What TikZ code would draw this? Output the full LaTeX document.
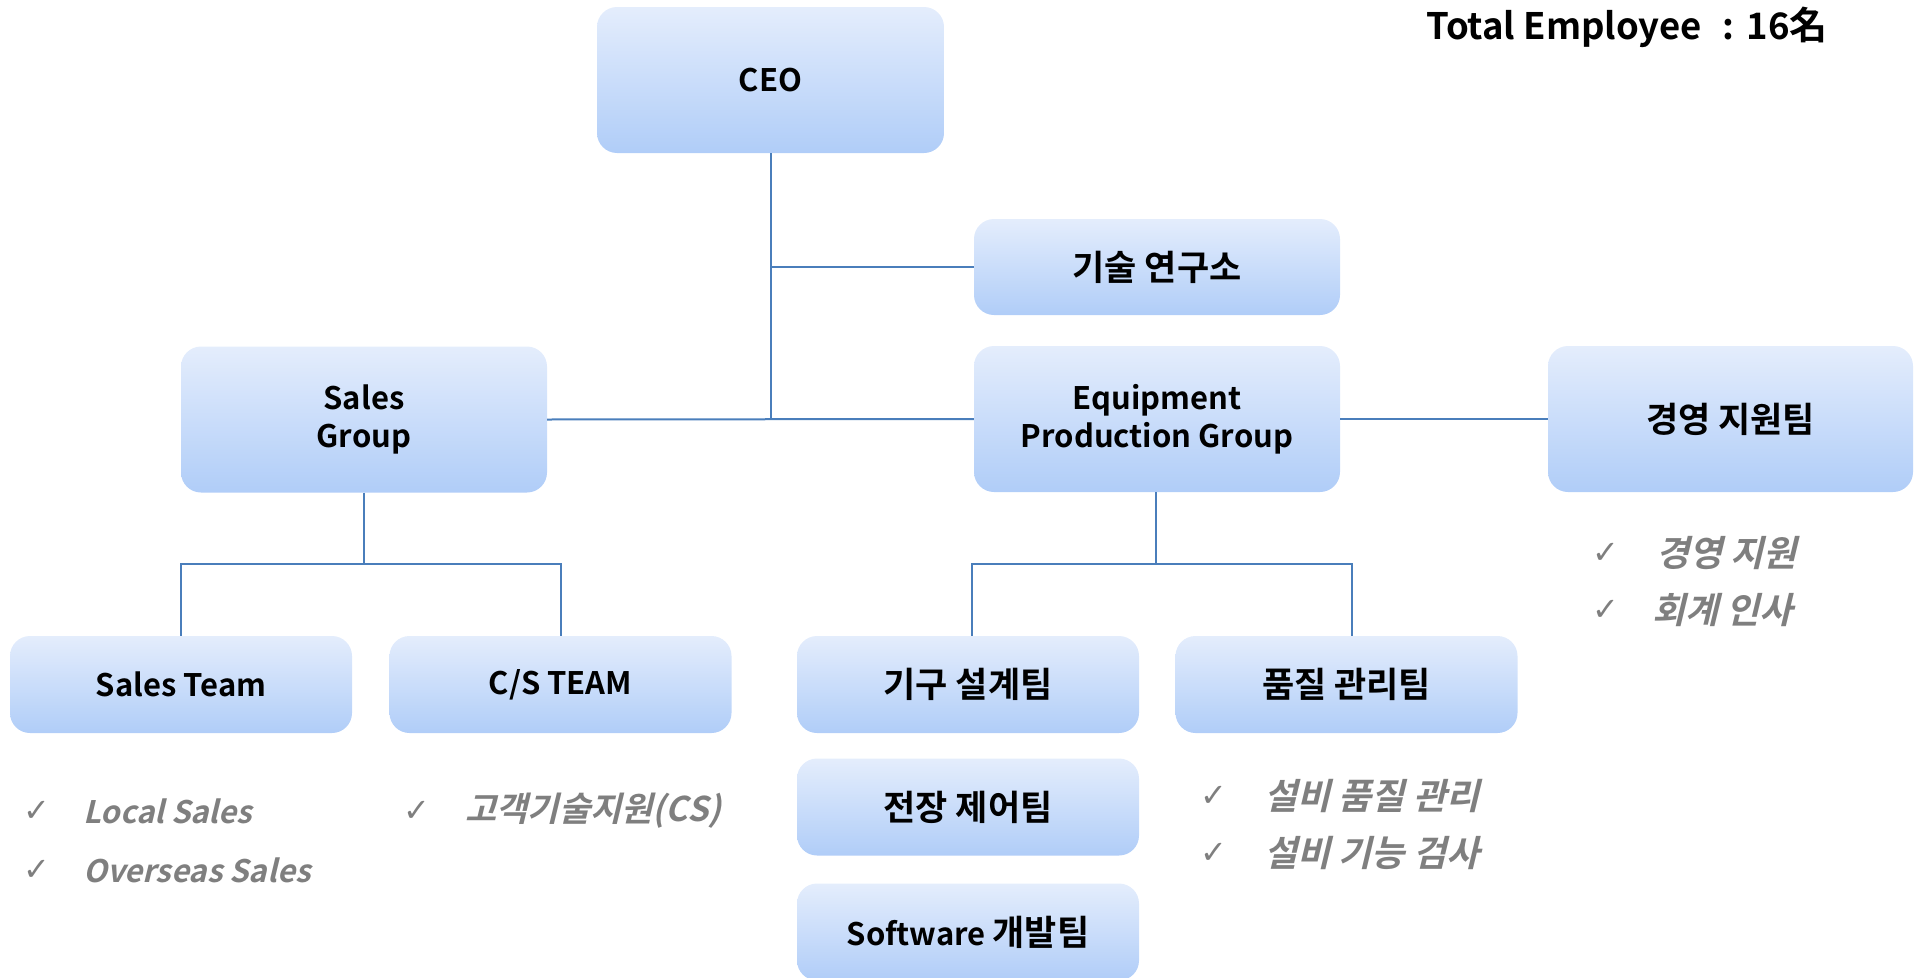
\documentclass[tikz,border=0pt]{standalone}
\usepackage{fontspec}
\setmainfont{Noto Sans CJK KR}
\newfontfamily\krbold{Noto Sans CJK KR Bold}
\newfontfamily\krboldit{Noto Sans CJK KR Bold}[FakeSlant=0.24]
\newfontfamily\chkfont{DejaVu Sans}
\newcommand\hg[1]{{\fontsize{35}{38}\selectfont #1}}
\newcommand\hgi[1]{{\fontsize{36}{38}\selectfont #1}}
\definecolor{boxtop}{HTML}{E4EDFC}
\definecolor{boxbot}{HTML}{B0CDF8}
\definecolor{linec}{HTML}{4A7EBB}
\definecolor{itemgray}{HTML}{7F7F7F}
\tikzset{
  orgbox/.style={rounded corners=20pt, top color=boxtop, bottom color=boxbot, draw=none,
    inner sep=0pt, align=center, font=\krbold\fontsize{31}{38}\selectfont},
  bigbox/.style={orgbox, minimum width=366pt, minimum height=146pt},
  labbox/.style={orgbox, minimum width=366pt, minimum height=96pt},
  teambox/.style={orgbox, minimum width=342pt, minimum height=97pt},
  conn/.style={draw=linec, line width=2pt},
  chk/.style={text=itemgray, inner sep=0pt, font=\chkfont\fontsize{32}{36}\selectfont},
  item/.style={text=itemgray, anchor=west, inner sep=0pt, font=\krboldit\fontsize{31}{36}\selectfont},
}
\begin{document}
\begin{tikzpicture}[x=1pt, y=-1pt]
\useasboundingbox (0,0) rectangle (1919,977);
% boxes
\node[bigbox, minimum width=347pt] (ceo) at (770.5,80) {CEO};
\node[labbox] (lab) at (1157,267) {\hg{기술 연구소}};
\node[bigbox] (sg) at (364,419.5) {Sales\\Group};
\node[bigbox] (eq) at (1157,419) {Equipment\\Production Group};
\node[bigbox, minimum width=365pt] (mg) at (1730.5,419) {\hg{경영 지원팀}};
\node[teambox] (st) at (181,684.5) {Sales Team};
\node[teambox] (cs) at (560.5,684.5) {C/S TEAM};
\node[teambox] (mech) at (968,684.5) {\hg{기구 설계팀}};
\node[teambox] (qa) at (1346.5,684.5) {\hg{품질 관리팀}};
\node[teambox] (elec) at (968,807) {\hg{전장 제어팀}};
\node[teambox] (sw) at (968,932) {Software \hg{개발팀}};
% title
\node[anchor=west, inner sep=0pt, font=\krbold\fontsize{36.5}{40}\selectfont] (total) at (1426,27) {Total Employee\hspace{21pt}:\hspace{12pt}16{\fontsize{38}{40}\selectfont 名}};
% connectors
\coordinate (cj) at (ceo.south |- sg.east);
\coordinate (sgj) at (364,564);
\coordinate (eqj) at (1155.5,564);
\draw[conn] (ceo.south) -- (cj);
\draw[conn] (sg.east) -- (eq.west);
\draw[conn] (ceo.south |- lab.west) -- (lab.west);
\draw[conn] (eq.east) -- (mg.west);
\draw[conn] (sg.south) -- (sgj);
\draw[conn] (st.north) -- (st.north |- sgj) -- (cs.north |- sgj) -- (cs.north);
\draw[conn] (eq.south -| eqj) -- (eqj);
\draw[conn] ([xshift=4pt]mech.north) -- ([xshift=4pt]mech.north |- eqj) -- ([xshift=5.5pt]qa.north |- eqj) -- ([xshift=5.5pt]qa.north);
% items
\node[chk] (c1) at (37,811) {✓};
\node[item] (i1) at (83,811) {Local Sales};
\node[chk] (c2) at (37,870) {✓};
\node[item] (i2) at (83,870) {Overseas Sales};
\node[chk] (c3) at (417,811) {✓};
\node[item, font=\krboldit\fontsize{34}{38}\selectfont] (i3) at (465,811) {고객기술지원(CS)};
\node[chk] (c4) at (1214,796) {✓};
\node[item] (i4) at (1264,796) {\hgi{설비 품질 관리}};
\node[chk] (c5) at (1214,853) {✓};
\node[item] (i5) at (1264,853) {\hgi{설비 기능 검사}};
\node[chk] (c6) at (1606,553) {✓};
\node[item] (i6) at (1656,553) {\hgi{경영 지원}};
\node[chk] (c7) at (1606,610) {✓};
\node[item] (i7) at (1652,610) {\hgi{회계 인사}};
\end{tikzpicture}
\end{document}
